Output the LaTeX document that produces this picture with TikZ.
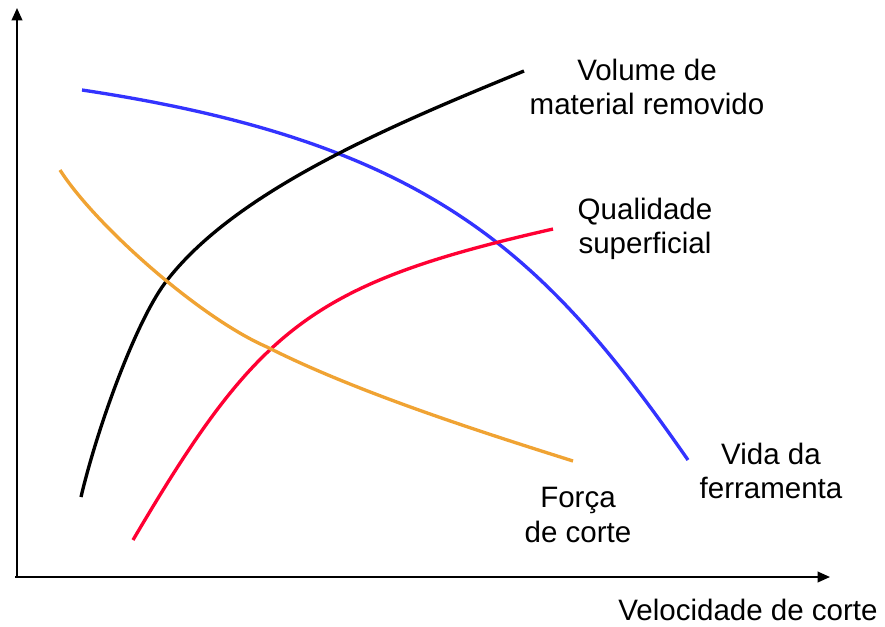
\documentclass[tikz,border=0pt]{standalone}
\usepackage{fontspec}
\setmainfont{Liberation Sans}
\usetikzlibrary{arrows.meta}
\definecolor{vidablue}{rgb}{0.2, 0.2, 1.0}
\definecolor{forcaorange}{rgb}{0.94, 0.64, 0.2}
\definecolor{qualred}{rgb}{1.0, 0.0, 0.2}

\begin{document}
\begin{tikzpicture}[x=0.02cm,y=-0.02cm,
    curve/.style={line width=1.9pt},
    axis/.style={line width=1.1pt,-{Triangle[length=7pt,width=6pt]}},
    lbl/.style={align=center,font=\fontsize{16.8}{19.4}\selectfont}]
\useasboundingbox (0,0) rectangle (885,626);

% eixos
\draw[axis] (15,577) -- (830,577);
\draw[axis] (17,578) -- (17,8);

% curvas
\draw[curve,vidablue] (82,90) .. controls (432,142.5) and (545.5,255) .. (688,460);
\draw[curve,black] (81,497) .. controls (98,425) and (136,322) .. (165,283)
  .. controls (235,190) and (395,124) .. (524,71);
\draw[curve,qualred] (133,540) .. controls (258,327.5) and (310.5,284) .. (553,229);
\draw[curve,forcaorange] (60,170) .. controls (95,225) and (200,318) .. (267,347)
  .. controls (356,392) and (478,431) .. (573,461);

% legendas
\node[lbl] (volume) at (647,87) {Volume de\\material removido};
\node[lbl] (qualidade) at (645,229) {Qualidade\\superficial};
\node[lbl] (vida) at (771,471) {Vida da\\ferramenta};
\node[lbl] (forca) at (578,515) {Força\\de corte};
\node[lbl] (velocidade) at (748,610) {Velocidade de corte};
\end{tikzpicture}
\end{document}
